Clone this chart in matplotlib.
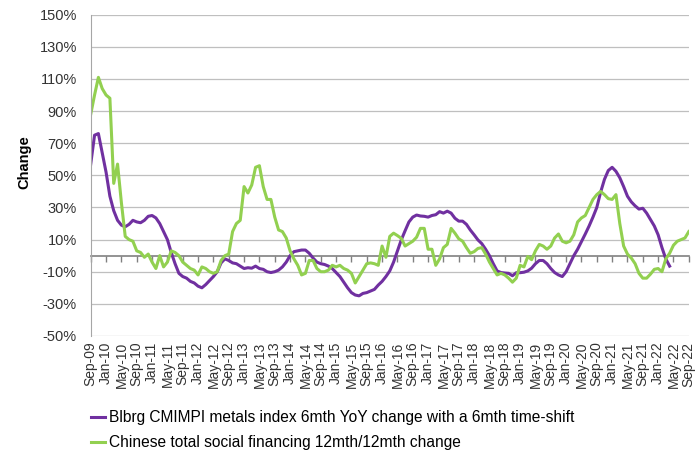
import pandas as pd
import matplotlib
matplotlib.use('Agg')
from matplotlib import pyplot as plt

# monthly data, Sep-09 .. Sep-22 (values in %)
months = pd.date_range('2009-09-01', '2022-09-01', freq='MS')
tick_pos = list(range(0, len(months), 4))
tick_labels = [months[i].strftime('%b-%y') for i in tick_pos]

metals_label = 'Blbrg CMIMPI metals index 6mth YoY change with a 6mth time-shift'
tsf_label = 'Chinese total social financing 12mth/12mth change'

metals = [57, 75, 76, 64, 52, 37, 28, 22, 19, 18, 19.5, 22,
          21, 20.5, 22, 24.5, 25, 23.5, 20, 15, 10, 2, -5, -11,
          -13, -14, -16, -17, -19, -20, -18, -15.5, -13, -10, -4.5, -2,
          -3, -4.5, -5, -6.5, -8, -7.5, -7.8, -6.5, -8, -8.5, -10, -10.5,
          -10, -9, -7, -4, 0, 2.5, 3, 3.5, 3.5, 1.5, -1.5, -4,
          -5, -5.5, -6.5, -8, -10.5, -13, -16.5, -20, -23, -24.5, -25, -23.5,
          -23, -22, -21, -18.3, -16, -13, -9.5, -4, 3, 9.8, 15.5, 21,
          24, 25.3, 24.7, 24.5, 24, 25, 25.5, 27.4, 26.5, 27.7, 26.5, 23.3,
          21.5, 21.5, 19.5, 16, 13, 9.8, 7.5, 4, 0, -5, -9.5, -10.5,
          -10.8, -11, -12.5, -10.6, -10.6, -10.3, -9.5, -7.8, -5, -3, -3, -5,
          -8, -10.5, -12, -13, -10, -5, 0, 4, 8.7, 13.5, 18.5, 24,
          30, 39.5, 47.5, 53, 55, 52.5, 48.5, 43, 37, 33.5, 31, 29,
          29.5, 26.5, 22.5, 18.5, 13, 5, -2, -6.5]

tsf = [88, 100, 111, 104, 100, 98, 45, 57, 33, 12, 10, 9,
       3, 2, -1, 1, -4, -8, 0, -7, -4, 3, 2, 0,
       -4, -6, -8, -9, -12, -7, -8, -10, -11, -10, -3, 0,
       1, 15, 20, 22, 43, 39, 44, 55, 56, 43, 35, 35,
       24, 16, 15, 11, 3, -2, -6, -12, -11, -3, -3, -8,
       -10, -10, -9, -6, -7, -6, -8, -9, -11, -17, -13, -9,
       -5, -4.5, -5, -6, 6, -1, 12, 14, 12.5, 10.8, 6, 7.5,
       9, 11.5, 17, 17, 4, 4, -6, -2, 5, 7, 17, 14,
       10.5, 9, 5, 1.5, 2.5, 4.5, 5, 1, -4, -8, -12, -11,
       -12, -14, -16.5, -14, -6, -7, -0.5, -2.5, 3, 7, 6, 4,
       6, 11, 13.5, 9, 8, 9, 13, 21, 23.5, 25, 30, 35,
       38, 40, 38, 35.5, 35, 38, 20, 6, 1, -1.5, -5, -11,
       -14, -14, -11.5, -8.5, -8, -10, -2, 1.5, 6.5, 9, 10, 11, 15]

y_ticks = list(range(-50, 151, 20))

plt.rcParams['font.family'] = ['Liberation Sans', 'DejaVu Sans']

fig = plt.figure(figsize=(7, 4.58), dpi=100)
ax = fig.add_axes([0.1296, 0.2664, 0.8544, 0.7015])

ax.plot(range(len(metals)), metals, color='#7030A0', lw=2.2,
        label=metals_label, solid_joinstyle='round')
ax.plot(range(len(tsf)), tsf, color='#92D050', lw=2.2,
        label=tsf_label, solid_joinstyle='round')

ax.set_xlim(0, len(months) - 1)
ax.set_ylim(-50, 150)
ax.set_yticks(y_ticks)
ax.set_yticklabels([f'{v}%' for v in y_ticks], fontsize=10.5, color='#333333')
ax.yaxis.grid(True, color='#bfbfbf', lw=0.9)
ax.set_axisbelow(True)
ax.tick_params(axis='y', length=0, pad=10)

ax.set_xticks(tick_pos)
ax.set_xticklabels(tick_labels, rotation=90, fontsize=10, color='#333333')
ax.tick_params(axis='x', length=0, pad=4)

for side in ['top', 'right', 'bottom']:
    ax.spines[side].set_visible(False)
ax.spines['left'].set_color('#a6a6a6')

# axis line through zero with tick marks
zero_frac = (0 - (-50)) / 200
sec = ax.secondary_xaxis(zero_frac)
sec.set_xticks(tick_pos)
sec.set_xticklabels([])
sec.tick_params(axis='x', direction='out', length=4, width=1, color='#808080')
sec.spines['bottom'].set_color('#808080')
sec.spines['bottom'].set_linewidth(1.2)

ax.set_ylabel('Change', fontsize=10.5, fontweight='bold', labelpad=10)
ax.yaxis.set_label_coords(-0.1, 0.54)

fig.legend(loc='upper left', bbox_to_anchor=(0.13, 0.104), frameon=False,
           handlelength=0.9, handletextpad=0.25, labelspacing=0.65,
           borderpad=0, borderaxespad=0,
           prop={'size': 11.2})

fig.savefig('out.png', dpi=100)
